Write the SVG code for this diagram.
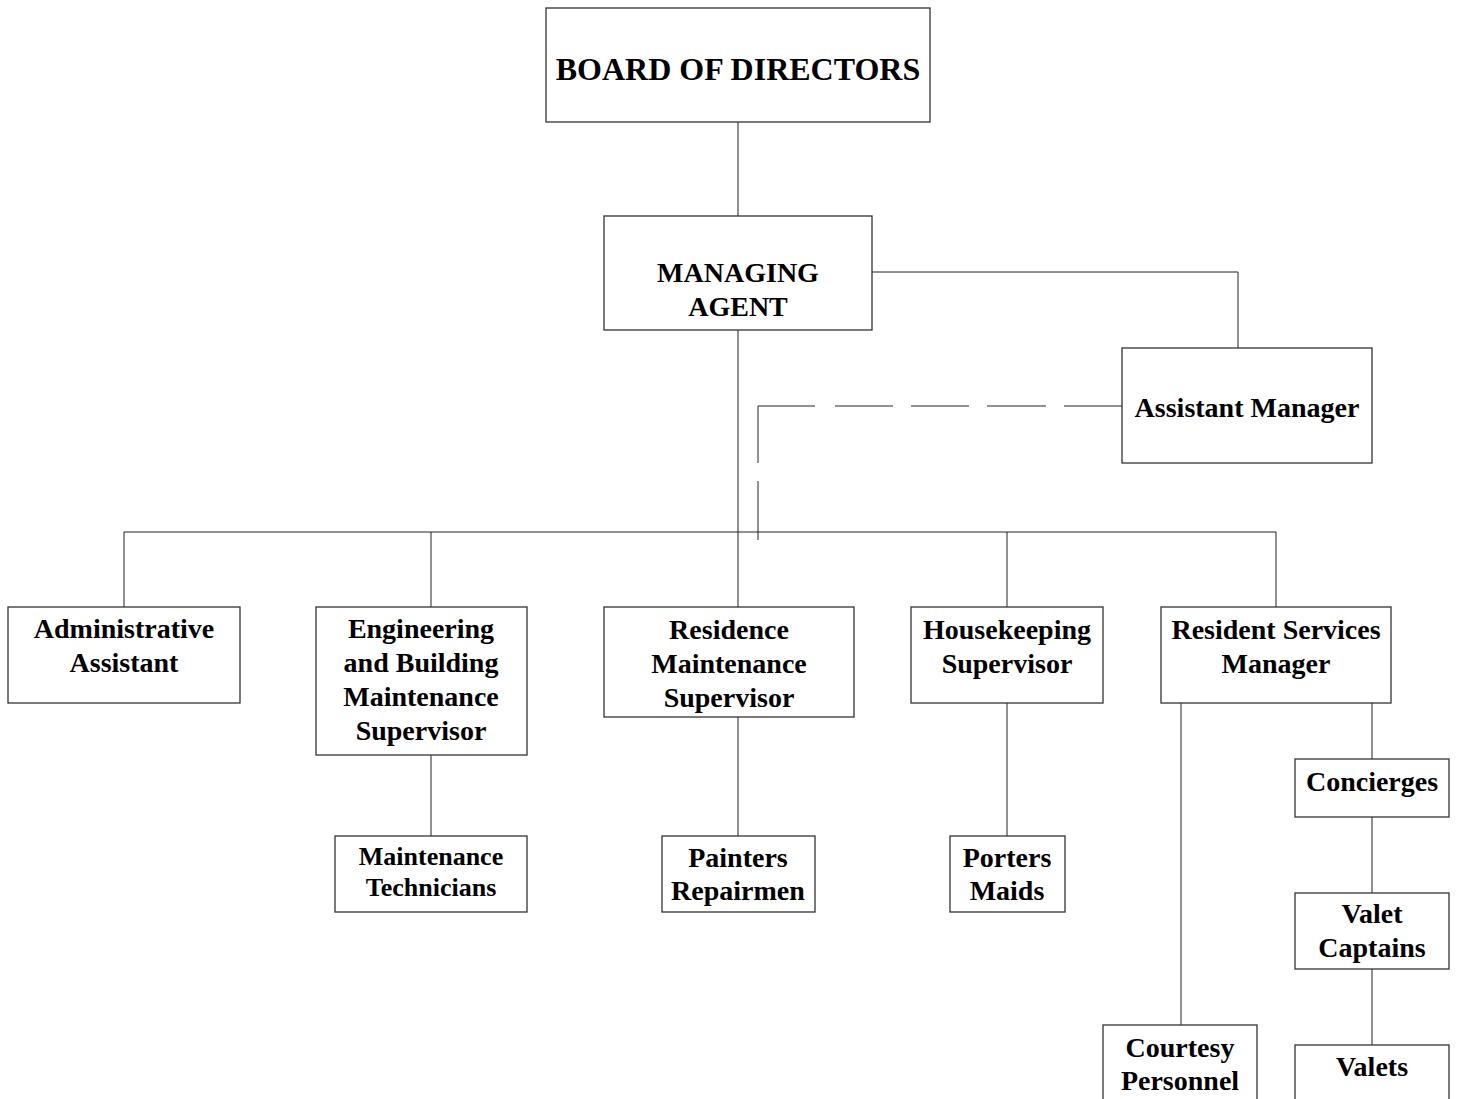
<svg xmlns="http://www.w3.org/2000/svg" width="1460" height="1099" viewBox="0 0 1460 1099">
<style>
.box{fill:#fff;stroke:#333;stroke-width:1.3}
.ln{fill:none;stroke:#222;stroke-width:1}
text{font-family:"Liberation Serif","Times New Roman",serif;font-weight:bold;font-size:28px;fill:#000;text-anchor:middle}
.big{font-size:32px}
.sm{font-size:26px}
</style>
<rect width="1460" height="1099" fill="#fff"/>
<g id="connectors">
<path class="ln" d="M738 122V216"/>
<path class="ln" d="M872 272H1238V348"/>
<path class="ln" d="M738 330V607"/>
<path class="ln" d="M124 532H1276"/>
<path class="ln" d="M124 532V607M431 532V607M1007 532V607M1276 532V607"/>
<path class="ln" d="M1122 406H1064M1046 406H987M969 406H911M893 406H835M815 406H758V463M758 481V540"/>
<path class="ln" d="M431 755V836"/>
<path class="ln" d="M738 717V836"/>
<path class="ln" d="M1007 703V836"/>
<path class="ln" d="M1181 703V1025"/>
<path class="ln" d="M1372 703V759M1372 817V893M1372 969V1045"/>
</g>
<g id="board"><rect class="box" x="546" y="8" width="384" height="114"/><text class="big" x="738" y="80">BOARD OF DIRECTORS</text></g>
<g id="managing-agent"><rect class="box" x="604" y="216" width="268" height="114"/><text x="738" y="282">MANAGING</text><text x="738" y="316">AGENT</text></g>
<g id="assistant-manager"><rect class="box" x="1122" y="348" width="250" height="115"/><text x="1247" y="417">Assistant Manager</text></g>
<g id="admin-assistant"><rect class="box" x="8" y="607" width="232" height="96"/><text x="124" y="638">Administrative</text><text x="124" y="672">Assistant</text></g>
<g id="engineering"><rect class="box" x="316" y="607" width="211" height="148"/><text x="421" y="638">Engineering</text><text x="421" y="672">and Building</text><text x="421" y="706">Maintenance</text><text x="421" y="740">Supervisor</text></g>
<g id="residence-maintenance"><rect class="box" x="604" y="607" width="250" height="110"/><text x="729" y="639">Residence</text><text x="729" y="673">Maintenance</text><text x="729" y="707">Supervisor</text></g>
<g id="housekeeping"><rect class="box" x="911" y="607" width="192" height="96"/><text x="1007" y="639">Housekeeping</text><text x="1007" y="673">Supervisor</text></g>
<g id="resident-services"><rect class="box" x="1161" y="607" width="230" height="96"/><text x="1276" y="639">Resident Services</text><text x="1276" y="673">Manager</text></g>
<g id="maintenance-technicians"><rect class="box" x="335" y="836" width="192" height="76"/><text class="sm" x="431" y="865">Maintenance</text><text class="sm" x="431" y="896">Technicians</text></g>
<g id="painters"><rect class="box" x="662" y="836" width="153" height="76"/><text x="738" y="867">Painters</text><text x="738" y="900">Repairmen</text></g>
<g id="porters"><rect class="box" x="950" y="836" width="115" height="76"/><text x="1007" y="867">Porters</text><text x="1007" y="900">Maids</text></g>
<g id="courtesy"><rect class="box" x="1103" y="1025" width="154" height="90"/><text x="1180" y="1057">Courtesy</text><text x="1180" y="1090">Personnel</text></g>
<g id="concierges"><rect class="box" x="1295" y="759" width="154" height="58"/><text x="1372" y="791">Concierges</text></g>
<g id="valet-captains"><rect class="box" x="1295" y="893" width="154" height="76"/><text x="1372" y="923">Valet</text><text x="1372" y="957">Captains</text></g>
<g id="valets"><rect class="box" x="1295" y="1045" width="154" height="70"/><text x="1372" y="1076">Valets</text></g>
</svg>
